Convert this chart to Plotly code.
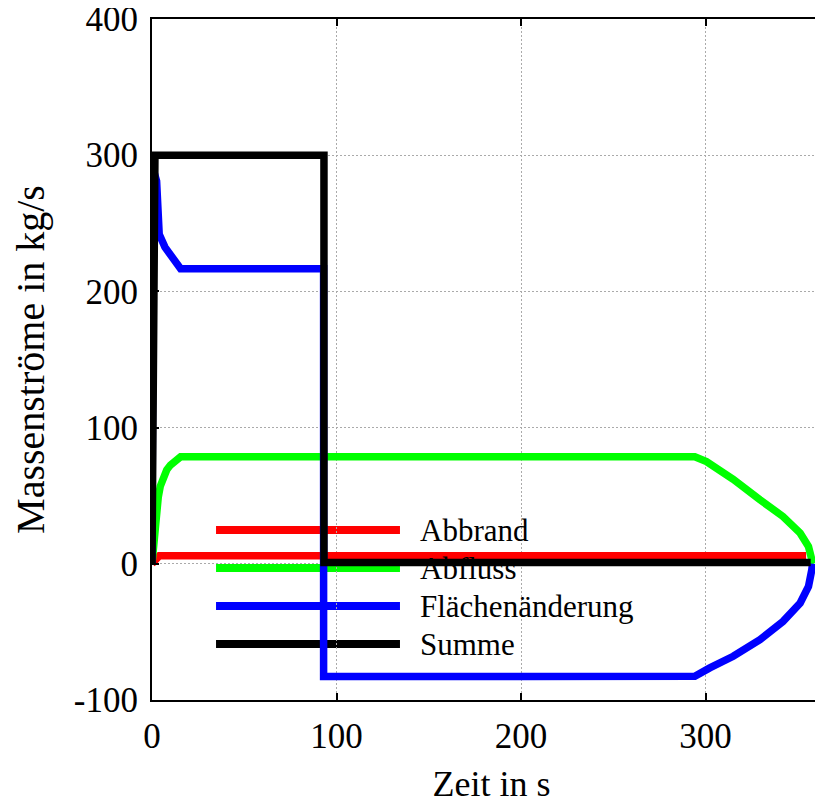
import plotly.graph_objects as go

# ---- data ----
t_abbrand = [0, 2, 4, 100, 200, 300, 354.5]
v_abbrand = [0, 4, 6, 6, 6, 6, 6]

t_abfluss = [0, 0.8, 1.5, 2.5, 3.4, 4.5, 6, 8, 10, 12.5, 15.5, 100, 200, 294.2,
             300.5, 315, 329.5, 342, 351.3, 355.8, 357.6, 358.2]
v_abfluss = [0, 15, 25, 35, 49, 57, 64, 69, 72.5, 76, 78.6, 78.6, 78.6, 78.6,
             75, 62, 47, 34.7, 22.5, 12.7, 3, 0]

t_flaeche = [0, 0.6, 2.5, 2.9, 3.9, 7, 11.5, 15.5, 93, 93, 200, 294.2,
             302.3, 315, 329.5, 342, 351.3, 355.8, 357.6, 358]
v_flaeche = [0, 290, 281, 262, 242, 232.5, 224, 216.6, 216.6, -82.8, -82.8, -82.5,
             -76.4, -67.9, -55.7, -42.3, -28.8, -16.6, -4.4, 0]

t_summe = [0, 1.6, 93.2, 93.2, 357]
v_summe = [0, 300, 300, 1, 1]

series_names = ["Abbrand", "Abfluss", "Flächenänderung", "Summe"]
series_colors = ["#ff0000", "#00ff00", "#0000ff", "#000000"]

x_ticks = [0, 100, 200, 300]
y_ticks = [-100, 0, 100, 200, 300, 400]

FONT = "Liberation Serif, Times New Roman, serif"

fig = go.Figure()
for name, tx, vy, col in zip(series_names,
                             [t_abbrand, t_abfluss, t_flaeche, t_summe],
                             [v_abbrand, v_abfluss, v_flaeche, v_summe],
                             series_colors):
    fig.add_trace(go.Scatter(x=tx, y=vy, mode="lines", name=name,
                             line=dict(color=col, width=7.5), showlegend=False))

# legend drawn underneath the data, like the reference
leg_y = [0.2496, 0.1938, 0.1380, 0.0822]
for name, col, yy in zip(series_names, series_colors, leg_y):
    fig.add_shape(type="line", xref="paper", yref="paper", x0=0.0943, x1=0.3652,
                  y0=yy, y1=yy, line=dict(color=col, width=8), layer="below")
    fig.add_annotation(xref="paper", yref="paper", x=0.3918, y=yy, text=name,
                       showarrow=False, xanchor="left", yanchor="middle",
                       font=dict(family=FONT, size=31, color="black"))

fig.update_layout(
    width=823, height=805,
    margin=dict(l=144, r=0, t=11, b=113),
    paper_bgcolor="white", plot_bgcolor="white",
    font=dict(family=FONT, color="black"),
    showlegend=False,
)
fig.update_xaxes(
    range=[0, 368.0], tickvals=x_ticks, ticktext=[str(v) for v in x_ticks],
    automargin=False,
    showline=True, linecolor="black", linewidth=2, mirror="ticks",
    ticks="inside", ticklen=7, tickwidth=2, tickcolor="black",
    showgrid=True, gridcolor="#aaaaaa", gridwidth=1, griddash="2px,2px",
    zeroline=False, tickfont=dict(family=FONT, size=35),
    ticklabelstandoff=4, ticklabeloverflow="allow",
    title=dict(text="Zeit in s", font=dict(family=FONT, size=36), standoff=16),
)
fig.update_yaxes(
    range=[-100, 400], tickvals=y_ticks, ticktext=[str(v) for v in y_ticks],
    automargin=False,
    showline=True, linecolor="black", linewidth=2, mirror=False,
    ticks="inside", ticklen=7, tickwidth=2, tickcolor="black",
    showgrid=True, gridcolor="#aaaaaa", gridwidth=1, griddash="2px,2px",
    zeroline=False, tickfont=dict(family=FONT, size=35),
    ticklabelstandoff=5, ticklabeloverflow="allow",
    title=dict(text="Massenströme in kg/s", font=dict(family=FONT, size=40), standoff=19),
)

fig.write_html("out.html")
